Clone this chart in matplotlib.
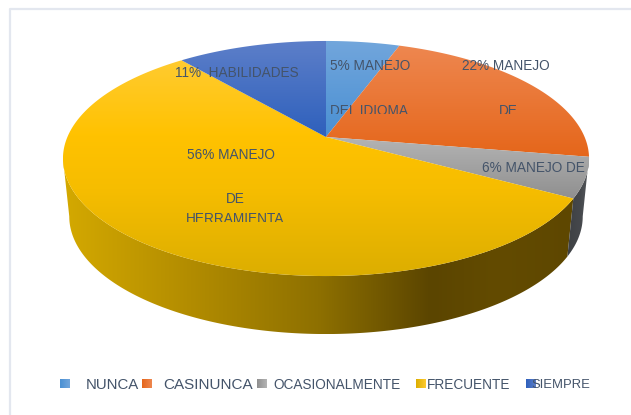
import numpy as np
import matplotlib
matplotlib.use("Agg")
import matplotlib.pyplot as plt
from matplotlib.colors import LinearSegmentedColormap
from matplotlib.patches import Polygon, Rectangle

categories = ["NUNCA", "CASINUNCA", "OCASIONALMENTE", "FRECUENTE", "SIEMPRE"]
# read from the slice edges, the printed labels are rounded
shares = [5.4, 22.3, 5.5, 55.8, 11.0]
slice_labels = [
    ["5% MANEJO", "DEL IDIOMA"],
    ["22% MANEJO", "DE"],
    ["6% MANEJO DE"],
    ["56% MANEJO", "DE", "HERRAMIENTA"],
    ["11%  HABILIDADES"],
]

top_colors = [
    [(0.0, "#72a6dc"), (1.0, "#4a90d3")],
    [(0.0, "#ee8750"), (1.0, "#e5661a")],
    [(0.0, "#b4b4b4"), (1.0, "#8f8f8f")],
    [(0.0, "#ffcb30"), (0.35, "#ffc200"), (0.6, "#f6bd00"), (1.0, "#dcae00")],
    [(0.0, "#5d7fc9"), (1.0, "#2e60bc")],
]
TEXT_COLOR = "#44546a"
FRAME_COLOR = "#e3e7ef"

# perspective of the pie, in picture pixels
CX, CY = 326, 137
RX, RY, TILT = 258.6, 113.6, 0.183
DEPTH, BOTTOM_SCALE = 58, 0.976


def rim(percent):
    theta = np.radians(np.asarray(percent) * 3.6)
    w = 1 + TILT * np.cos(theta)
    return CX + RX * np.sin(theta) / w, CY - RY * np.cos(theta) / w


def rim_bottom(percent):
    x, y = rim(percent)
    return CX + BOTTOM_SCALE * (x - CX), y + DEPTH


def gradient_fill(ax, verts, stops, horizontal=False, zorder=2):
    verts = np.asarray(verts)
    poly = Polygon(verts, closed=True, transform=ax.transData, fc="none", ec="none")
    ax.add_patch(poly)
    cmap = LinearSegmentedColormap.from_list("g", stops)
    ramp = np.linspace(0, 1, 256)
    ramp = ramp[None, :] if horizontal else ramp[:, None]
    x0, y0 = verts.min(axis=0)
    x1, y1 = verts.max(axis=0)
    im = ax.imshow(ramp, cmap=cmap, extent=(x0, x1, y1, y0), aspect="auto",
                   origin="upper", vmin=0, vmax=1, zorder=zorder)
    im.set_clip_path(poly)


def main() -> None:
    plt.rcParams["font.family"] = ["Liberation Sans", "DejaVu Sans"]
    fig = plt.figure(figsize=(6.31, 4.15), dpi=100)
    ax = fig.add_axes([0, 0, 1, 1])

    edges = np.concatenate([[0], np.cumsum(shares)])

    # side wall, only the two slices in front show it.
    # the outline runs from the widest point of the top rim to the widest of the bottom rim
    sweep = np.linspace(0, 100, 721)
    right_most = sweep[np.argmax(rim_bottom(sweep)[0])]
    left_most = sweep[np.argmin(rim(sweep)[0])]
    left_most_bottom = sweep[np.argmin(rim_bottom(sweep)[0])]

    yellow_wall = [(0.0, "#d4a900"), (0.25, "#b28c00"), (0.5, "#8e7000"),
                   (0.72, "#5b4500"), (0.85, "#634b00"), (1.0, "#5e4700")]
    gray_wall = [(0.0, "#3e4043"), (0.6, "#45484c"), (1.0, "#55585c")]
    spans = [
        (3, yellow_wall, edges[3], left_most, edges[3], left_most_bottom),
        (2, gray_wall, edges[2], edges[3], right_most, edges[3]),
    ]
    for _, stops, t0, t1, b0, b1 in spans:
        tx, ty = rim(np.linspace(t0, t1, 200))
        bx, by = rim_bottom(np.linspace(b0, b1, 200))
        verts = np.column_stack([np.r_[tx, bx[::-1]], np.r_[ty, by[::-1]]])
        gradient_fill(ax, verts, stops, horizontal=True, zorder=2)

    # top face
    for i, stops in enumerate(top_colors):
        tx, ty = rim(np.linspace(edges[i], edges[i + 1], 200))
        verts = np.column_stack([np.r_[CX, tx], np.r_[CY, ty]])
        gradient_fill(ax, verts, stops, zorder=3)

    # frame of the chart area, only top and left are in the crop
    ax.plot([631, 10, 10], [9, 9, 415], color=FRAME_COLOR, lw=1.6, zorder=1)

    # data labels: the box of each label cuts off its last line
    label_x = [[370, 369], [506, 508], [533], [231, 235, 235], [237]]
    label_y = [[66, 111], [66, 111], [168], [155, 199, 219], [73]]
    clip_bottom = [114, 114, 200, 222, 100]
    for lines, xs, ys, bottom in zip(slice_labels, label_x, label_y, clip_bottom):
        box = Rectangle((0, 0), 631, bottom, transform=ax.transData)
        for line, x, y in zip(lines, xs, ys):
            txt = ax.text(x, y, line, color=TEXT_COLOR, fontsize=9.8, ha="center",
                          va="center", zorder=5)
            txt.set_clip_path(box)
            txt.set_clip_on(True)

    # legend, the entries overlap in the reference so it is placed by hand
    marker_x = [60, 142, 257, 416, 526]
    text_x = [86, 163, 273, 427, 531]
    text_size = [10.8, 11.0, 9.8, 9.8, 9.4]
    for i, name in enumerate(categories):
        mx = marker_x[i]
        c0, c1 = top_colors[i][0][1], top_colors[i][-1][1]
        gradient_fill(ax, [(mx, 379), (mx + 10, 379), (mx + 10, 388), (mx, 388)],
                      [c1, c0], horizontal=True, zorder=4)
        ax.text(text_x[i], 385, name, color=TEXT_COLOR, fontsize=text_size[i], ha="left",
                va="center", zorder=5)

    ax.set_xlim(0, 631)
    ax.set_ylim(415, 0)
    ax.axis("off")
    fig.savefig("out.png", dpi=100)
    plt.close(fig)


if __name__ == "__main__":
    main()
